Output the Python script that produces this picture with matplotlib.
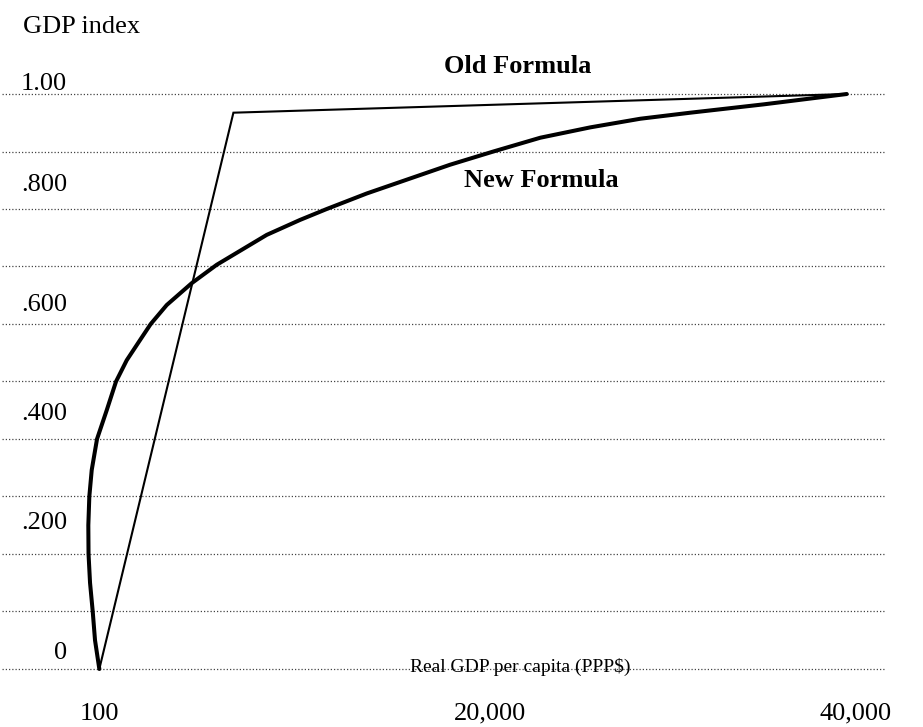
import numpy as np
import matplotlib
matplotlib.use("Agg")
import matplotlib.pyplot as plt
from matplotlib.transforms import ScaledTranslation

plt.rcParams["font.family"] = ["Liberation Serif", "DejaVu Serif"]

# old formula: linear to the threshold, then heavily discounted
old_x = [100, 7170, 39510]
old_y = [0.0, 0.9675, 1.0]

# new formula (log)
new_x = [100, -127, -248, -390, -469, -480, -427, -301, -21, 490, 981, 1545,
         2246, 2810, 3654, 4972, 6291, 7609, 8927, 10683, 12091, 14200,
         15958, 18594, 20876, 23355, 25991, 28628, 31264, 35129, 39510]
new_y = [0.0, 0.05, 0.1, 0.15, 0.2, 0.25, 0.3, 0.346, 0.4, 0.45, 0.5, 0.537,
         0.572, 0.6, 0.633, 0.671, 0.703, 0.729, 0.755, 0.781, 0.8, 0.827,
         0.847, 0.877, 0.9, 0.924, 0.942, 0.957, 0.9675, 0.982, 1.0]

x_ticks = [100, 20000, 40000]
x_labels = ["100", "20,000", "40,000"]
y_labels = ["0", ".200", ".400", ".600", ".800", "1.00"]
y_label_pos = [0.028, 0.254, 0.443, 0.633, 0.842, 1.018]

fig = plt.figure(figsize=(9.23, 7.27), dpi=100)
ax = fig.add_axes([0.0022, 0.0719, 0.9567, 0.8067])

ax.plot(old_x, old_y, color="black", lw=1.5, solid_joinstyle="miter", zorder=3)
ax.plot(new_x, new_y, color="black", lw=2.9, solid_joinstyle="round",
        solid_capstyle="round", zorder=3)

ax.set_xlim(-5030, 41530)
ax.set_ylim(-0.01, 1.01)
ax.set_yticks(np.arange(0, 1.01, 0.1))
ax.tick_params(axis="y", length=0, labelleft=False)
ax.grid(axis="y", color="#444444", linestyle=(0, (1, 1.6)), linewidth=0.9)
ax.set_xticks(x_ticks, x_labels)
ax.tick_params(axis="x", length=0, pad=20, labelsize=19)
# middle label sits a little right of its value in the original
mid = ax.get_xticklabels()[1]
mid.set_transform(mid.get_transform() + ScaledTranslation(0.13, 0, fig.dpi_scale_trans))
for s in ax.spines.values():
    s.set_visible(False)

for lab, pos in zip(y_labels, y_label_pos):
    ax.text(0.0736, pos, lab, transform=ax.get_yaxis_transform(),
            ha="right", va="center", fontsize=19)

fig.text(0.0249, 0.9546, "GDP index", ha="left", va="baseline", fontsize=19)
ax.text(22180, 1.0365, "Old Formula", ha="center", va="baseline",
        fontsize=19, fontweight="bold")
ax.text(23420, 0.838, "New Formula", ha="center", va="baseline",
        fontsize=19, fontweight="bold")
ax.text(22300, -0.006, "Real GDP per capita (PPP$)", ha="center", va="baseline",
        fontsize=14)

fig.savefig("out.png", dpi=100)
plt.close(fig)
